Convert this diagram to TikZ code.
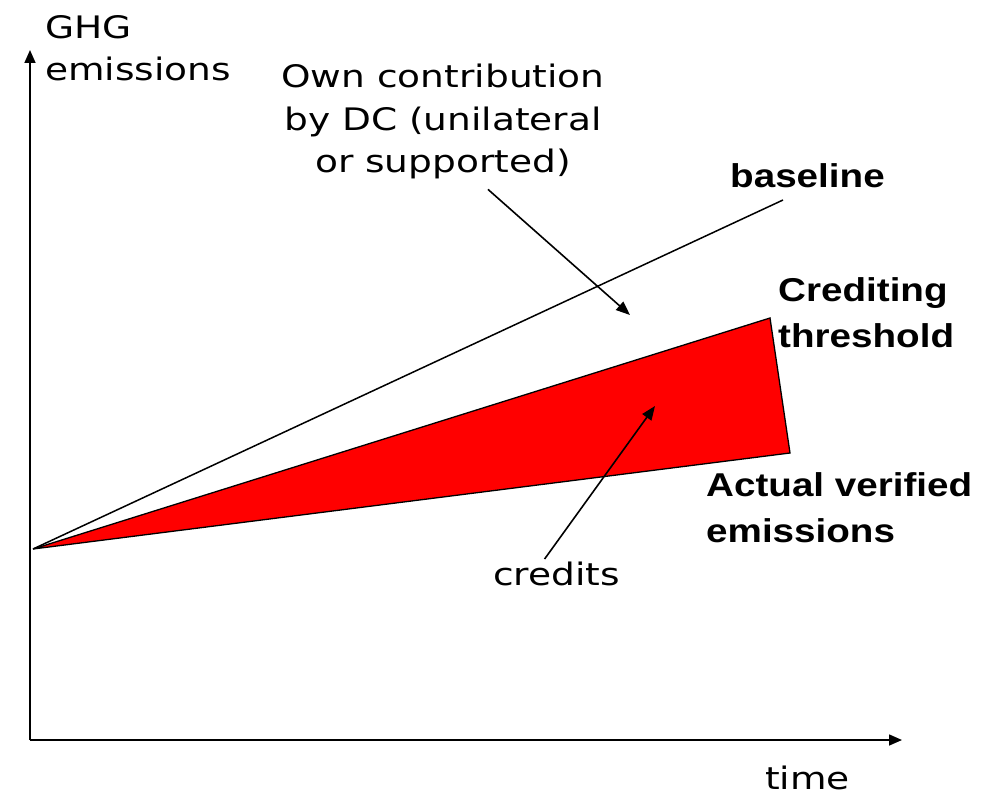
\documentclass[tikz,border=0pt]{standalone}
\usepackage{fontspec}
\setmainfont{DejaVu Sans}[FakeStretch=1.21]
\newfontfamily\boldlbl{Liberation Sans}[FakeStretch=1.17]
\usepackage{tikz}
\usetikzlibrary{arrows.meta}

\begin{document}
\begin{tikzpicture}[x=1pt, y=-1pt,
  txt/.style={inner sep=0pt, font=\fontsize{31}{42.5}\selectfont},
  bld/.style={inner sep=0pt, font=\boldlbl\bfseries\fontsize{33}{46}\selectfont},
  axis/.style={line width=1.6pt, -{Triangle[length=13pt,width=11pt]}},
  ptr/.style={line width=1.6pt, -{Triangle[length=14pt,width=11pt]}}]
\useasboundingbox (0,0) rectangle (990,797);
\coordinate (O) at (30,740);
\coordinate (ytop) at (30,50);
\coordinate (xend) at (902,740);
\coordinate (start) at (33,549);
\coordinate (base) at (783,200);
\coordinate (thr) at (770,318);
\coordinate (act) at (790,453);
\coordinate (owntip) at (630,315);
\coordinate (credtip) at (655,406);
\fill [red] (start) -- (thr) -- (act) -- cycle;
\draw [line width=1.3pt] (start) -- (thr) -- (act) -- cycle;
\draw [line width=1.5pt] (start) -- (base);
\draw [axis] (O) -- (ytop);
\draw [axis] (O) -- (xend);
\node [txt, anchor=north west, align=left] (ghg) at (45,15) {GHG\\emissions};
\node [txt, anchor=north, align=center] (own) at (443,64) {Own contribution\\by DC (unilateral\\or supported)};
\node [bld, anchor=north west] (bl) at (730,163) {baseline};
\node [bld, anchor=north west, align=left] (ct) at (778,277) {Crediting\\threshold};
\node [bld, anchor=north west, align=left] (ave) at (706,472) {Actual verified\\emissions};
\node [txt, anchor=north west] (cred) at (493,562) {credits};
\node [txt, anchor=north west] (time) at (765,766) {time};
\draw [ptr] ([xshift=45pt,yshift=-10pt]own.south) -- (owntip);
\draw [ptr] ([xshift=-12pt,yshift=3pt]cred.north) -- (credtip);
\end{tikzpicture}
\end{document}
